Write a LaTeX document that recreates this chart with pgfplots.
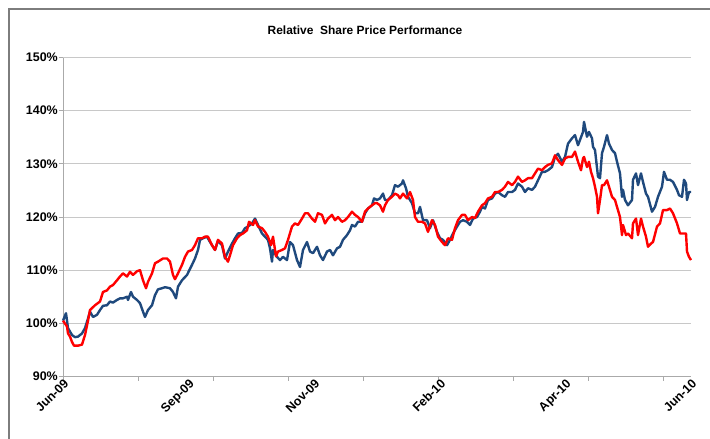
\documentclass[border=0pt]{standalone}
\usepackage{fontspec}
\setmainfont{Liberation Sans}
\usepackage{pgfplots}
\pgfplotsset{compat=1.18}
\definecolor{bluel}{RGB}{31,73,125}
\definecolor{redl}{RGB}{255,0,0}
\definecolor{bordergray}{RGB}{125,125,125}
\definecolor{gridgray}{RGB}{200,200,200}
\definecolor{axisgray}{RGB}{170,170,170}
\begin{document}
\begin{tikzpicture}
\useasboundingbox (0,0) rectangle (710bp,439bp);
\draw[line width=2.2bp, bordergray] (9bp,-5bp) -- (9bp,430bp) -- (715bp,430bp);
\node[font=\fontsize{12}{14}\selectfont\bfseries] at (365bp,409bp) {Relative\ \ Share Price Performance};
\begin{axis}[
  at={(63bp,62.5bp)}, anchor=south west,
  scale only axis, width=628bp, height=319bp,
  xmin=0, xmax=628, ymin=90, ymax=150,
  axis x line*=bottom, axis y line*=left,
  axis line style={-, axisgray, line width=0.9bp},
  ytick={90,100,110,120,130,140,150},
  yticklabels={90\%,100\%,110\%,120\%,130\%,140\%,150\%},
  xtick={0,75,150,225,300,375,450,525,600},
  xticklabels={},
  extra x ticks={0,125.6,251.2,376.8,502.4,628},
  extra x tick labels={Jun-09,Sep-09,Nov-09,Feb-10,Apr-10,Jun-10},
  extra x tick style={major tick length=0pt, grid=none},
  tick align=outside, major tick length=4bp,
  tick style={axisgray, line width=0.8bp},
  ymajorgrids, grid style={gridgray, line width=0.9bp},
  y tick label style={font=\fontsize{12.5}{14}\selectfont\bfseries, inner sep=1pt},
  x tick label style={font=\fontsize{12.5}{14}\selectfont\bfseries, rotate=45, anchor=north east, inner sep=1pt},
  clip=false,
]
\addplot[bluel, line width=2.4bp, line join=round] coordinates {
(0,100.5)(3,101.9)(5,99.1)(9,97.8)(12,97.4)(15,97.5)(19,98.1)(22,99.1)(25,100.9)(27,102.2)
(30,101.2)(34,101.6)(37,102.5)(40,103.3)(44,103.4)(47,104.1)(50,103.9)(54,104.4)(57,104.7)(60,104.7)
(64,105.0)(65,104.4)(68,105.9)(70,105.0)(74,104.4)(77,103.8)(80,102.2)(82,101.2)(85,102.5)(89,103.4)
(92,105.3)(95,106.4)(99,106.6)(102,106.8)(107,106.6)(110,105.9)(113,104.7)(115,106.9)(119,108.1)(124,109.1)
(129,111.0)(132,112.2)(135,113.8)(137,115.7)(140,116.0)(144,116.3)(147,115.3)(152,113.8)(155,115.5)(159,114.7)
(162,112.2)(165,113.5)(169,115.0)(172,116.0)(175,116.9)(179,117.0)(182,117.9)(185,118.2)(189,118.8)(192,119.7)
(195,118.5)(199,116.9)(202,116.3)(205,115.7)(207,114.1)(209,111.6)(210,113.8)(214,112.5)(217,111.9)(220,112.5)
(224,111.9)(227,115.3)(230,114.7)(234,111.9)(237,110.6)(240,113.8)(244,115.3)(247,113.5)(250,113.2)(254,114.4)
(257,112.8)(260,111.9)(264,113.5)(267,113.8)(270,112.8)(274,114.1)(277,114.4)(280,115.7)(284,116.6)(287,117.5)
(289,118.5)(292,118.2)(295,119.1)(299,119.1)(302,120.7)(305,121.6)(309,122.2)(311,123.5)(314,123.2)(317,123.5)
(320,124.4)(322,123.2)(325,123.2)(329,124.1)(332,126.0)(335,125.7)(339,126.3)(340,126.9)(343,125.4)(345,123.8)
(349,122.6)(352,120.7)(355,120.7)(357,121.9)(360,119.4)(364,119.4)(367,117.9)(370,119.4)(374,117.2)(377,116.0)
(380,115.7)(384,114.7)(387,115.7)(390,116.9)(394,118.2)(397,119.1)(400,119.4)(404,119.1)(407,118.5)(410,119.7)
(414,120.0)(417,121.0)(419,121.9)(422,121.6)(425,123.2)(429,123.5)(432,124.4)(435,124.7)(439,124.1)(442,123.8)
(445,124.7)(449,124.7)(452,125.1)(455,126.3)(459,125.7)(462,124.7)(465,125.4)(469,125.1)(472,125.7)(475,126.9)
(479,128.5)(482,128.5)(485,128.8)(489,129.4)(492,131.3)(495,131.9)(499,130.4)(502,131.3)(505,133.8)(509,134.8)
(512,135.4)(515,133.5)(517,134.5)(520,136.0)(521,137.9)(524,135.1)(526,136.0)(529,134.8)(530,133.2)(532,132.6)
(535,127.6)(537,127.3)(539,132.0)(541,133.2)(544,135.4)(546,133.8)(549,132.6)(552,132.0)(554,130.4)(557,128.2)
(559,123.8)(560,125.1)(562,123.2)(565,122.2)(569,123.2)(570,127.0)(573,128.2)(575,126.0)(578,128.2)(580,126.6)
(583,124.4)(585,123.8)(589,121.0)(592,121.9)(595,123.8)(599,125.7)(601,128.5)(604,127.0)(607,127.0)(610,126.6)
(614,125.1)(616,124.1)(619,123.8)(621,127.0)(623,126.3)(624,123.2)(626,124.7)(628,124.7)
};
\addplot[redl, line width=2.4bp, line join=round] coordinates {
(0,100.5)(4,99.4)(5,98.1)(7,97.5)(9,96.5)(11,95.8)(15,95.8)(19,96.0)(22,97.8)(25,100.5)
(27,102.5)(32,103.4)(37,104.1)(40,105.9)(44,106.2)(47,106.9)(50,107.2)(54,108.1)(57,108.8)(60,109.4)
(64,108.8)(67,109.7)(70,109.1)(74,109.8)(77,110.0)(80,108.1)(83,106.6)(85,107.8)(89,109.4)(92,111.3)
(95,111.6)(100,112.2)(104,112.2)(107,111.6)(110,109.1)(112,108.3)(115,109.4)(119,111.0)(122,112.5)(125,113.5)
(129,113.8)(132,114.7)(135,116.0)(139,116.0)(142,116.3)(145,116.3)(149,114.7)(152,113.8)(155,115.7)(159,115.0)
(162,112.5)(165,111.6)(167,112.8)(170,114.7)(174,116.0)(177,116.6)(180,116.9)(184,117.5)(186,119.1)(190,118.5)
(192,119.4)(195,118.2)(199,117.9)(202,117.2)(205,116.3)(208,114.7)(210,116.3)(213,112.6)(215,113.5)(219,113.8)
(222,114.1)(225,115.7)(229,118.2)(232,118.8)(235,118.5)(239,119.7)(242,120.7)(245,120.7)(249,119.7)(252,119.1)
(255,120.7)(259,120.4)(262,118.8)(265,119.7)(269,120.4)(272,119.4)(275,120.0)(279,119.1)(282,119.4)(285,120.0)
(289,121.0)(292,120.4)(295,120.0)(299,119.1)(302,121.0)(305,121.6)(309,122.2)(312,122.6)(314,122.6)(317,122.2)
(320,121.0)(322,122.2)(325,123.2)(329,123.8)(332,124.4)(335,124.1)(337,123.5)(340,124.4)(344,123.5)(347,124.7)
(350,123.2)(352,120.0)(355,119.1)(359,119.1)(362,118.8)(365,117.2)(369,119.4)(372,118.5)(375,116.3)(379,115.3)
(382,114.7)(385,116.0)(389,115.7)(392,117.9)(395,119.4)(399,120.4)(402,120.4)(405,119.4)(409,120.0)(412,119.8)
(415,121.0)(419,122.2)(422,122.6)(425,123.5)(429,123.8)(432,124.7)(435,124.7)(439,125.1)(442,125.7)(445,126.6)
(449,126.0)(452,126.6)(455,127.6)(459,126.6)(462,126.9)(465,127.3)(469,127.3)(472,128.2)(475,129.1)(479,128.8)
(482,129.4)(485,129.8)(489,130.1)(492,131.6)(495,130.7)(499,129.8)(502,131.0)(505,131.3)(509,131.3)(512,132.3)
(515,130.4)(518,128.8)(520,131.0)(521,131.3)(524,129.4)(526,130.4)(528,128.5)(530,127.3)(532,125.7)(534,123.8)
(535,120.7)(537,123.2)(539,126.0)(541,126.0)(544,126.9)(546,125.7)(549,123.8)(552,123.2)(554,121.9)(557,120.0)
(559,116.6)(560,118.5)(563,116.6)(565,116.9)(569,116.0)(570,118.8)(573,119.7)(575,116.6)(578,119.7)(580,118.2)
(583,116.3)(585,114.4)(588,115.0)(590,115.3)(594,118.2)(597,118.8)(600,121.3)(604,121.3)(607,121.6)(610,120.7)
(614,118.8)(617,116.9)(620,116.9)(623,116.9)(624,113.5)(626,112.5)(628,111.9)
};
\end{axis}
\end{tikzpicture}
\end{document}
